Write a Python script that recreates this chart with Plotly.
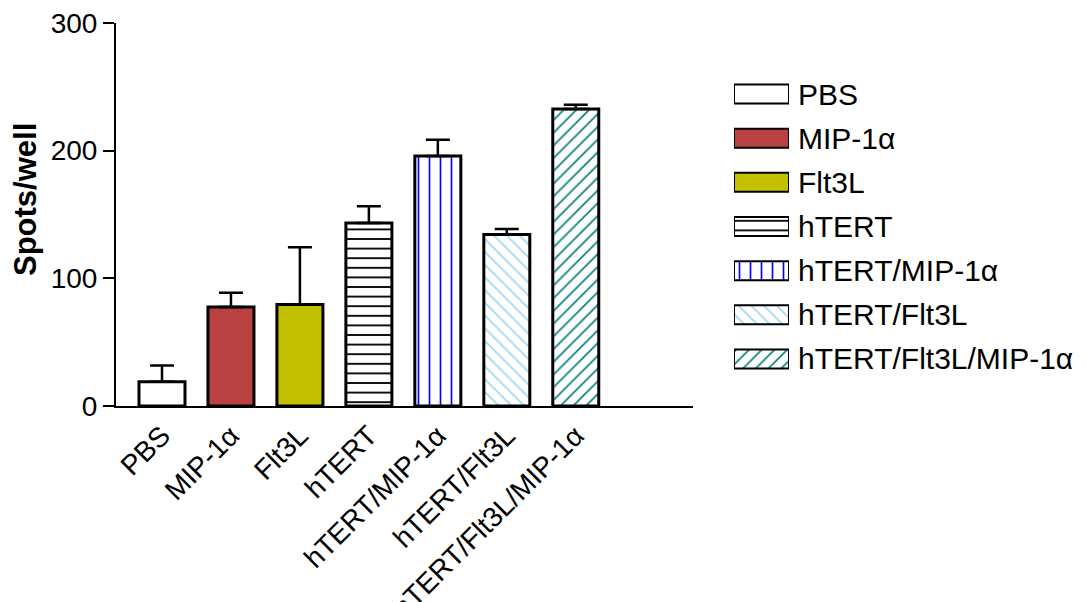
import plotly.graph_objects as go

categories = ["PBS", "MIP-1α", "Flt3L", "hTERT", "hTERT/MIP-1α", "hTERT/Flt3L", "hTERT/Flt3L/MIP-1α"]
means = [19, 77.5, 79.5, 143.3, 195.8, 134.3, 232.6]
sem = [12.7, 11.2, 44.9, 13.1, 12.8, 4.4, 3.4]
y_ticks = [0, 100, 200, 300]

fill_colors = ["white", "#B94142", "#C3C000", "white", "white", "white", "white"]
pat_shapes = ["", "", "", "-", "|", "\\", "/"]
pat_fg = ["black", "black", "black", "black", "#0000FF", "#A3D9F2", "#138585"]
pat_size = [8, 8, 8, 9.6, 11, 9, 9]
pat_sol = [0.2, 0.2, 0.2, 0.19, 0.15, 0.2, 0.2]

FONT = "Arial, Liberation Sans, sans-serif"

fig = go.Figure()

for i, cat in enumerate(categories):
    pattern = dict(shape=pat_shapes[i], fgcolor=pat_fg[i], fgopacity=1,
                   size=pat_size[i], solidity=pat_sol[i])
    fig.add_trace(go.Bar(
        x=[cat], y=[means[i]],
        width=0.667,
        marker=dict(color=fill_colors[i], line=dict(color="black", width=3), pattern=pattern),
        error_y=dict(type="data", symmetric=False, array=[sem[i]], arrayminus=[0],
                     color="black", thickness=2.5, width=12),
        showlegend=False,
        xaxis="x", yaxis="y",
    ))
    # legend swatch drawn as a bar on a separate small axis
    fig.add_trace(go.Bar(
        y=[cat], x=[1], orientation="h",
        width=0.43,
        marker=dict(color=fill_colors[i], line=dict(color="black", width=2), pattern=pattern),
        showlegend=False, hoverinfo="skip",
        xaxis="x2", yaxis="y2",
    ))

W_PAPER = 1086 - 116 - 4
fig.update_layout(
    width=1086, height=602,
    margin=dict(l=116, r=4, t=23, b=196),
    plot_bgcolor="white", paper_bgcolor="white",
    font=dict(family=FONT, color="black"),
    barmode="overlay",
    xaxis=dict(
        domain=[0, (693 - 116) / W_PAPER],
        type="category", categoryorder="array", categoryarray=categories,
        range=[-0.667, 7.7],
        showline=True, linecolor="black", linewidth=2,
        ticks="", tickangle=-45,
        tickfont=dict(size=28, family=FONT, color="black"),
        showgrid=False, zeroline=False, automargin=False,
    ),
    yaxis=dict(
        range=[0, 300], tickvals=y_ticks,
        showline=True, linecolor="black", linewidth=2,
        ticks="outside", ticklen=11, tickwidth=2, tickcolor="black",
        tickfont=dict(size=28, family=FONT, color="black"),
        showgrid=False, zeroline=False, automargin=False,
    ),
    xaxis2=dict(
        domain=[(734 - 116) / W_PAPER, (789 - 116) / W_PAPER],
        range=[0, 1], visible=False, anchor="y2", automargin=False,
    ),
    yaxis2=dict(
        domain=[(406 - 381) / 383, (406 - 72) / 383],
        type="category", categoryorder="array", categoryarray=categories,
        range=[6.5, -0.5],
        anchor="x2", side="right",
        showline=False, showgrid=False, zeroline=False, ticks="",
        tickfont=dict(size=30, family=FONT, color="black"),
        ticklabelstandoff=8, automargin=False,
    ),
    annotations=[dict(
        text="<b>Spots/well</b>", textangle=-90,
        xref="paper", yref="paper",
        x=(25 - 116) / W_PAPER, y=(406 - 200) / 383,
        xanchor="center", yanchor="middle", showarrow=False,
        font=dict(size=31, family=FONT, color="black"),
    )],
)

fig.write_html("out.html", post_script="document.body.style.margin='0';",
               config={"displayModeBar": False})
